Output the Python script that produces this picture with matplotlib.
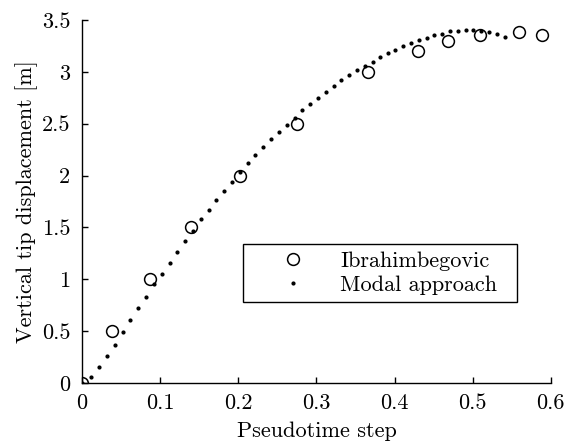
import matplotlib.pyplot as plt

plt.rcParams['font.family'] = 'cmr10'
plt.rcParams['mathtext.fontset'] = 'cm'
plt.rcParams['axes.formatter.use_mathtext'] = True

# Ibrahimbegovic reference points
ib_x = [0.0, 0.039, 0.087, 0.139, 0.202, 0.2755, 0.3657, 0.4295, 0.468, 0.5087, 0.559, 0.5888]
ib_y = [0.0, 0.5, 1.0, 1.5, 2.0, 2.5, 3.0, 3.2, 3.3, 3.36, 3.385, 3.36]

# modal approach
modal_x = [0.0, 0.012, 0.022, 0.032, 0.042, 0.052, 0.062, 0.072, 0.082, 0.092,
           0.102, 0.112, 0.122, 0.132, 0.142, 0.152, 0.162, 0.172, 0.182, 0.192,
           0.202, 0.212, 0.222, 0.232, 0.242, 0.252, 0.262, 0.272, 0.282, 0.292,
           0.302, 0.312, 0.322, 0.332, 0.342, 0.352, 0.362, 0.372, 0.382, 0.392,
           0.401, 0.411, 0.421, 0.431, 0.441, 0.451, 0.461, 0.471, 0.481, 0.491,
           0.501, 0.511, 0.521, 0.531, 0.541]
modal_y = [0.0, 0.06, 0.15, 0.26, 0.37, 0.49, 0.61, 0.72, 0.83, 0.95,
           1.05, 1.16, 1.26, 1.37, 1.47, 1.58, 1.67, 1.76, 1.85, 1.94,
           2.03, 2.12, 2.20, 2.28, 2.35, 2.42, 2.49, 2.56, 2.63, 2.69,
           2.75, 2.81, 2.86, 2.92, 2.97, 3.02, 3.06, 3.10, 3.14, 3.18,
           3.21, 3.25, 3.28, 3.31, 3.33, 3.36, 3.37, 3.39, 3.39, 3.40,
           3.40, 3.39, 3.38, 3.37, 3.34]

fig = plt.figure(figsize=(5.75, 4.41), dpi=100)
ax = fig.add_axes([0.1426, 0.1315, 0.8154, 0.8231])

ax.plot(ib_x, ib_y, 'o', mfc='none', mec='black', ms=8.5, mew=1.1, label='Ibrahimbegovic')
ax.plot(modal_x, modal_y, '.', color='black', ms=4, label='Modal approach')

ax.set_xlim(0, 0.6)
ax.set_ylim(0, 3.5)
ax.set_xticks([0, 0.1, 0.2, 0.3, 0.4, 0.5, 0.6])
ax.set_xticklabels(['0', '0.1', '0.2', '0.3', '0.4', '0.5', '0.6'])
ax.set_yticks([0, 0.5, 1, 1.5, 2, 2.5, 3, 3.5])
ax.set_yticklabels(['0', '0.5', '1', '1.5', '2', '2.5', '3', '3.5'])
ax.spines['top'].set_visible(False)
ax.spines['right'].set_visible(False)
for s in ['left', 'bottom']:
    ax.spines[s].set_linewidth(1.0)
ax.tick_params(direction='in', length=4, width=1, labelsize=16)
ax.tick_params(axis='x', pad=7.5)
ax.tick_params(axis='y', pad=8.5)
ax.set_xlabel('Pseudotime step', fontsize=16, labelpad=6)
ax.set_ylabel('Vertical tip displacement [m]', fontsize=16, labelpad=3)

leg = ax.legend(loc='upper left', bbox_to_anchor=(0.343, 0.183, 0.584, 0.2), mode='expand',
                borderaxespad=0, fancybox=False, framealpha=1, edgecolor='black', fontsize=16,
                handletextpad=0.15, borderpad=0.32, labelspacing=0.2, handlelength=3.9)
leg.get_frame().set_linewidth(1.0)

fig.savefig('out.png', dpi=100)
